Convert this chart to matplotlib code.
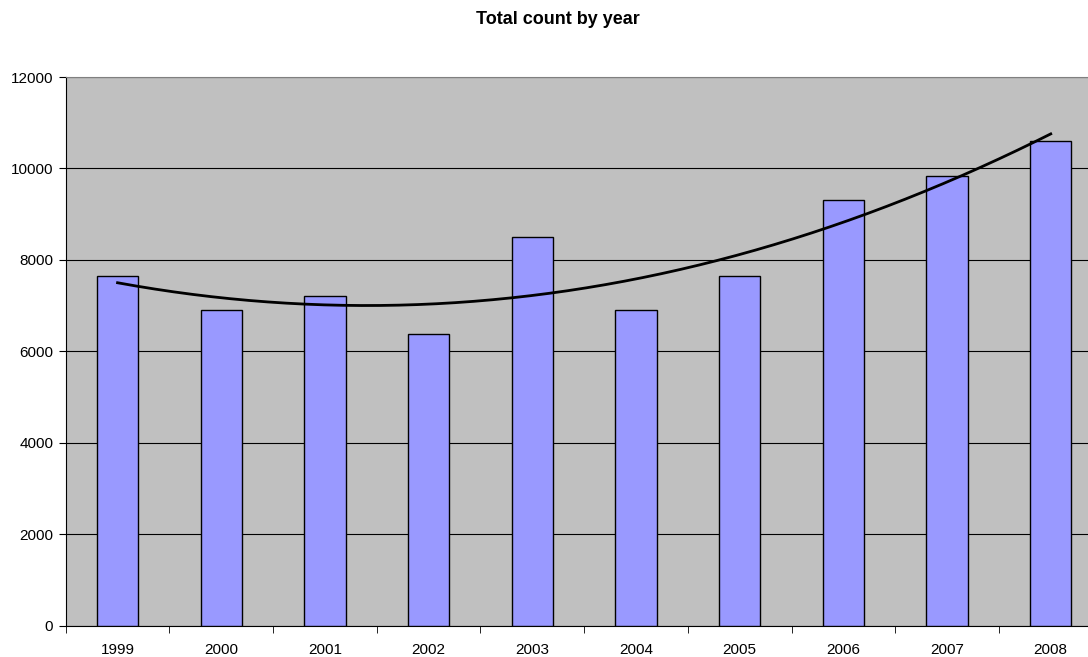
import matplotlib.pyplot as plt
import numpy as np

years = ["1999", "2000", "2001", "2002", "2003", "2004", "2005", "2006", "2007", "2008"]
counts = [7650, 6910, 7220, 6380, 8500, 6900, 7650, 9310, 9830, 10600]
y_ticks = [0, 2000, 4000, 6000, 8000, 10000, 12000]

plt.rcParams["font.family"] = ["Liberation Sans", "DejaVu Sans"]

fig = plt.figure(figsize=(10.88, 6.57), dpi=100)
ax = fig.add_axes([0.0604, 0.0472, 0.953, 0.8356])
ax.set_facecolor("#C0C0C0")

x = np.arange(len(years))
ax.bar(x, counts, width=0.4, color="#9999FF", edgecolor="black", linewidth=1, zorder=3)

# second order polynomial trend, like the spreadsheet one
coef = np.polyfit(x, counts, 2)
xs = np.linspace(x[0], x[-1], 200)
ax.plot(xs, np.polyval(coef, xs), color="black", linewidth=2, zorder=4)

ax.set_xlim(-0.5, len(years) - 0.5)
ax.set_ylim(0, 12000)
ax.set_yticks(y_ticks)
ax.set_yticklabels([str(v) for v in y_ticks], fontsize=11)
ax.yaxis.grid(True, color="black", linewidth=0.8, zorder=1)
ax.set_axisbelow(True)

# category labels at centres, tick marks on the boundaries
ax.set_xticks(x)
ax.set_xticklabels(years, fontsize=11)
ax.tick_params(axis="x", which="major", length=0, pad=12)
ax.set_xticks(np.arange(len(years) + 1) - 0.5, minor=True)
ax.tick_params(axis="x", which="minor", length=5, direction="out", color="black")
ax.tick_params(axis="y", length=5, direction="out", pad=4)

for side in ["top", "right"]:
    ax.spines[side].set_color("#808080")
ax.spines["left"].set_color("black")
ax.spines["bottom"].set_color("black")

fig.text(0.513, 0.97, "Total count by year", ha="center", va="center",
         fontsize=13, fontweight="bold")

fig.savefig("out.png", dpi=100)
